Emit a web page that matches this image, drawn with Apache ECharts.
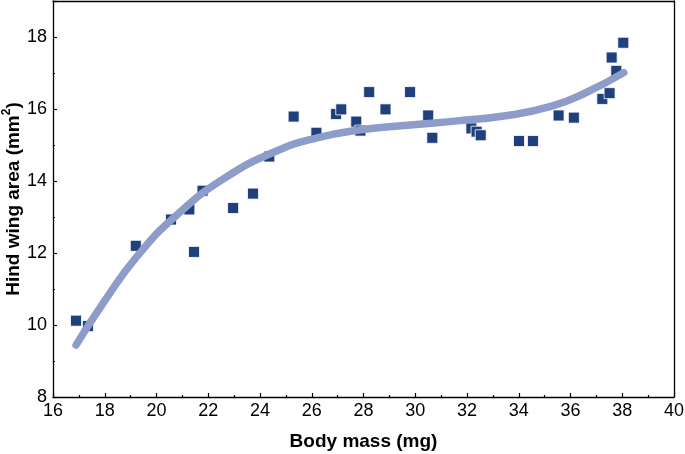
<!DOCTYPE html>
<html><head><meta charset="utf-8">
<script src="https://cdn.jsdelivr.net/npm/echarts@6/dist/echarts.min.js"></script>
<style>html,body{margin:0;padding:0;background:#fff}#c{width:685px;height:454px}</style>
</head><body><div id="c"></div>
<script>
const bodyMass = [16.89,17.35,19.2,20.56,21.27,21.45,21.78,22.96,23.73,24.36,25.3,26.18,26.94,27.14,27.72,27.88,28.22,28.85,29.8,30.5,30.66,32.17,32.37,32.53,34.01,34.55,35.54,36.13,37.23,37.51,37.77,37.59,38.04];
const wingArea = [10.12,9.97,12.2,12.93,13.21,12.03,13.73,13.25,13.65,14.68,15.79,15.34,15.86,15.99,15.65,15.4,16.47,15.99,16.47,15.82,15.2,15.46,15.37,15.27,15.11,15.11,15.82,15.76,16.28,16.44,17.06,17.43,17.84];
const fitX = [16.89,17.95,19.24,20.79,22.72,24.66,26.21,27.76,29.69,31.63,33.56,35.24,36.53,38.06];
const fitY = [9.44,10.62,11.9,13.06,14.12,14.84,15.2,15.41,15.55,15.67,15.82,16.07,16.43,17.01];
const xTicks = [16,18,20,22,24,26,28,30,32,34,36,38,40];
const yTicks = [8,10,12,14,16,18];

const chart = echarts.init(document.getElementById('c'));
const font = 'Liberation Sans, Arial, sans-serif';
const blank = {show:false};
chart.setOption({
  animation:false,
  grid:{left:53,right:11,top:1,bottom:57,outerBoundsMode:'none',containLabel:false},
  xAxis:[{type:'value',min:xTicks[0],max:xTicks[xTicks.length-1],interval:2,
    name:'Body mass (mg)',nameLocation:'middle',nameGap:35,
    nameTextStyle:{fontFamily:font,fontSize:19,fontWeight:'bold',color:'#000'},
    axisLine:{lineStyle:{color:'#000',width:1.3}},
    axisTick:{show:true,inside:true,length:4,lineStyle:{color:'#000',width:1.2}},
    minorTick:{show:true,splitNumber:2,length:2,lineStyle:{color:'#000',width:1.2}},
    splitLine:blank,
    axisLabel:{fontFamily:font,fontSize:18,color:'#000',margin:5}},
   {type:'value',position:'top',min:16,max:40,axisLine:{show:true,onZero:false,lineStyle:{color:'#000',width:1.3}},
    axisTick:blank,axisLabel:blank,splitLine:blank}],
  yAxis:[{type:'value',min:8,max:19,interval:2,
    name:'{a|Hind wing area (mm}{s|2}{a|)}',nameLocation:'middle',nameGap:30,nameMoveOverlap:false,
    nameTextStyle:{fontFamily:font,fontSize:19,fontWeight:'bold',color:'#000',
      rich:{a:{fontFamily:font,fontSize:19,fontWeight:'bold',color:'#000',verticalAlign:'bottom',lineHeight:22},
            s:{fontFamily:font,fontSize:12,fontWeight:'bold',color:'#000',verticalAlign:'top',lineHeight:22,padding:[0,0,8,0]}}},
    axisLine:{show:true,lineStyle:{color:'#000',width:1.3}},
    axisTick:{show:true,inside:true,length:4,lineStyle:{color:'#000',width:1.2}},
    minorTick:{show:true,splitNumber:2,length:2,lineStyle:{color:'#000',width:1.2}},
    splitLine:blank,
    axisLabel:{fontFamily:font,fontSize:18,color:'#000',margin:6,
      formatter:v=>yTicks.includes(v)?String(v):''}},
   {type:'value',position:'right',min:8,max:19,axisLine:{show:true,onZero:false,lineStyle:{color:'#000',width:1.3}},
    axisTick:blank,axisLabel:blank,splitLine:blank}],
  series:[
    {type:'scatter',data:bodyMass.map((x,i)=>[x,wingArea[i]]),symbol:'rect',symbolSize:11,
      itemStyle:{color:'#1f3f7d',opacity:1,borderColor:'#fff',borderWidth:0.8},z:2},
    {type:'line',data:fitX.map((x,i)=>[x,fitY[i]]),smooth:0.5,showSymbol:false,
      lineStyle:{color:'#8d9cc8',width:7.5,cap:'round'},z:3}
  ]
});
</script></body></html>
